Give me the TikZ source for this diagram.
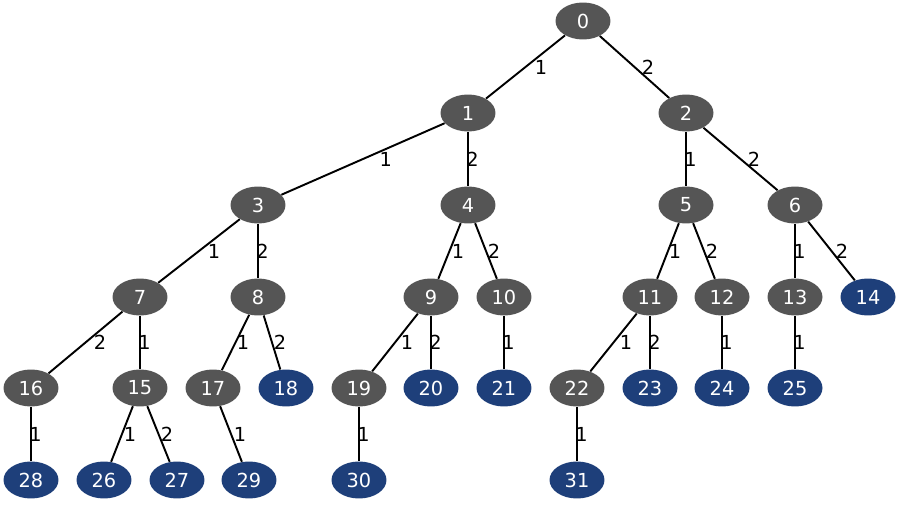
\documentclass[tikz,border=0pt]{standalone}
\usepackage{fontspec}
\setmainfont{DejaVu Sans}
\usetikzlibrary{shapes}

\definecolor{innergray}{RGB}{85,85,85}
\definecolor{leafblue}{RGB}{30,63,122}

\begin{document}
\begin{tikzpicture}
  [
  x = 0.02cm, y = -0.02cm,
  % inner
  inner/.style = {ellipse, fill=innergray, text=white,
    inner sep=0pt, minimum width=1.1cm, minimum height=0.74cm,
    font=\fontsize{11}{13}\selectfont},
  % leaf
  leaf/.style = {inner, fill=leafblue},
  % line
  line/.style = {draw, line width=1.1pt},
  % edge label
  lbl/.style = {midway, xshift=#1, inner sep=0pt,
    font=\fontsize{11}{13}\selectfont},
  lbl/.default = 2.6pt,
  ]

  \useasboundingbox (0,0) rectangle (900,520);

  % nodes
  \node [inner] (n0) at (583,21) {0};
  \node [inner] (n1) at (468,113) {1};
  \node [inner] (n2) at (686,113) {2};
  \node [inner] (n3) at (258,205) {3};
  \node [inner] (n4) at (468,205) {4};
  \node [inner] (n5) at (686,205) {5};
  \node [inner] (n6) at (795,205) {6};
  \node [inner] (n7) at (140,297) {7};
  \node [inner] (n8) at (258,297) {8};
  \node [inner] (n9) at (431,297) {9};
  \node [inner] (n10) at (504,297) {10};
  \node [inner] (n11) at (650,297) {11};
  \node [inner] (n12) at (722,297) {12};
  \node [inner] (n13) at (795,297) {13};
  \node [leaf] (n14) at (868,297) {14};
  \node [inner] (n16) at (31,388) {16};
  \node [inner] (n15) at (140,388) {15};
  \node [inner] (n17) at (213,388) {17};
  \node [leaf] (n18) at (286,388) {18};
  \node [inner] (n19) at (359,388) {19};
  \node [leaf] (n20) at (431,388) {20};
  \node [leaf] (n21) at (504,388) {21};
  \node [inner] (n22) at (577,388) {22};
  \node [leaf] (n23) at (650,388) {23};
  \node [leaf] (n24) at (722,388) {24};
  \node [leaf] (n25) at (795,388) {25};
  \node [leaf] (n28) at (31,480) {28};
  \node [leaf] (n26) at (104,480) {26};
  \node [leaf] (n27) at (177,480) {27};
  \node [leaf] (n29) at (249,480) {29};
  \node [leaf] (n30) at (359,480) {30};
  \node [leaf] (n31) at (577,480) {31};

  % path
  \path [line] (n0) -- node [lbl=8.8pt] {1} (n1);
  \path [line] (n0) -- node [lbl=7.7pt] {2} (n2);
  \path [line] (n1) -- node [lbl=13pt] {1} (n3);
  \path [line] (n1) -- node [lbl] {2} (n4);
  \path [line] (n2) -- node [lbl] {1} (n5);
  \path [line] (n2) -- node [lbl=7.7pt] {2} (n6);
  \path [line] (n3) -- node [lbl=8.5pt] {1} (n7);
  \path [line] (n3) -- node [lbl] {2} (n8);
  \path [line] (n4) -- node [lbl=4.8pt] {1} (n9);
  \path [line] (n4) -- node [lbl=4.5pt] {2} (n10);
  \path [line] (n5) -- node [lbl=4pt] {1} (n11);
  \path [line] (n5) -- node [lbl=4.5pt] {2} (n12);
  \path [line] (n6) -- node [lbl] {1} (n13);
  \path [line] (n6) -- node [lbl=6pt] {2} (n14);
  \path [line] (n7) -- node [lbl=8.2pt] {2} (n16);
  \path [line] (n7) -- node [lbl] {1} (n15);
  \path [line] (n8) -- node [lbl=4.3pt] {1} (n17);
  \path [line] (n8) -- node [lbl=4.5pt] {2} (n18);
  \path [line] (n9) -- node [lbl=6.8pt] {1} (n19);
  \path [line] (n9) -- node [lbl] {2} (n20);
  \path [line] (n10) -- node [lbl] {1} (n21);
  \path [line] (n11) -- node [lbl=7.1pt] {1} (n22);
  \path [line] (n11) -- node [lbl] {2} (n23);
  \path [line] (n12) -- node [lbl] {1} (n24);
  \path [line] (n13) -- node [lbl] {1} (n25);
  \path [line] (n16) -- node [lbl] {1} (n28);
  \path [line] (n15) -- node [lbl=4.5pt] {1} (n26);
  \path [line] (n15) -- node [lbl=4.8pt] {2} (n27);
  \path [line] (n17) -- node [lbl=5.1pt] {1} (n29);
  \path [line] (n19) -- node [lbl] {1} (n30);
  \path [line] (n22) -- node [lbl] {1} (n31);

\end{tikzpicture}
\end{document}
